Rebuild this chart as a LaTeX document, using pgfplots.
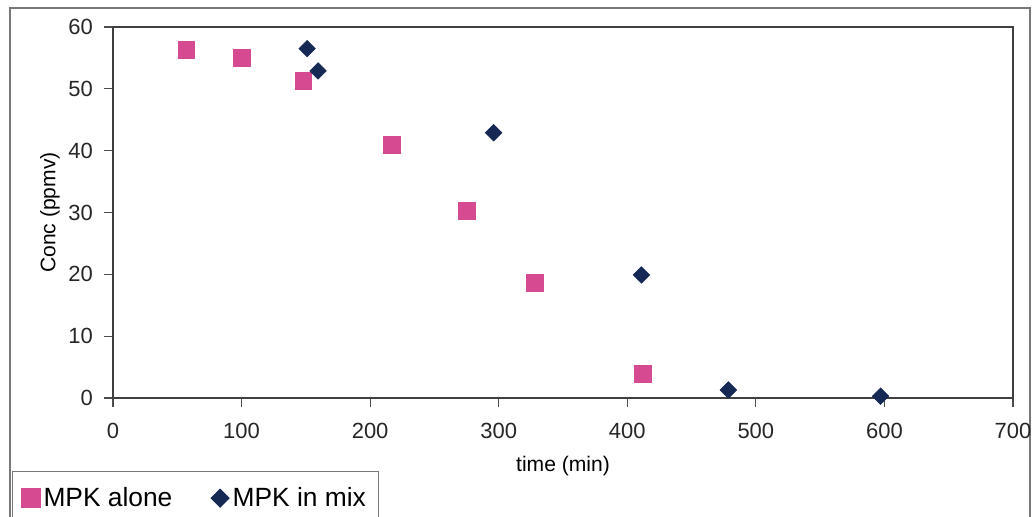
\documentclass[border=0pt]{standalone}
\usepackage{pgfplots}
\pgfplotsset{compat=1.18}
\usepackage{fontspec}
\setmainfont{Liberation Sans}
\definecolor{mpkpink}{RGB}{214,74,145}
\definecolor{mpknavy}{RGB}{22,40,84}
\definecolor{framegray}{RGB}{120,120,120}
\begin{document}
\begin{tikzpicture}
\useasboundingbox (0,0) rectangle (20.68cm,10.34cm);
\draw[framegray, line width=0.6pt] (0.2cm,0) -- (0.2cm,10.18cm) -- (20.6cm,10.18cm) -- (20.6cm,0);
\begin{axis}[
  at={(2.26cm,2.38cm)}, anchor=south west,
  scale only axis, width=18cm, height=7.42cm,
  xmin=0, xmax=700, ymin=0, ymax=60,
  xtick={0,100,...,700}, ytick={0,10,...,60},
  tick align=outside, major tick length=5pt,
  xtick pos=bottom, ytick pos=left,
  axis line style={draw=black!75, line width=1.1pt},
  tick style={black!70, line width=0.6pt},
  ticklabel style={font=\fontsize{12.5}{14}\selectfont, text=black!85},
  xticklabel style={yshift=-6pt},
  yticklabel style={xshift=-3pt},
  /pgf/number format/assume math mode=true,
  xlabel={time (min)}, ylabel={Conc (ppmv)},
  xlabel style={font=\fontsize{12}{14}\selectfont, yshift=-3pt},
  ylabel style={font=\fontsize{12}{14}\selectfont, yshift=-2pt},
  legend columns=2,
  legend style={at={(-0.112,-0.197)}, anchor=north west, draw=framegray, line width=0.5pt,
    font=\fontsize{15}{18}\selectfont, inner xsep=5pt, inner ysep=7pt,
    /tikz/every even column/.append style={column sep=20pt}},
  legend cell align=left,
  legend image post style={scale=1.1},
]
\addplot[only marks, mark=square*, mark size=4.8pt, color=mpkpink] coordinates {
(57,56.3) (100,55.0) (148,51.3) (217,40.9) (275.5,30.3) (328,18.6) (412,3.9)};
\addlegendentry{MPK alone}
\addplot[only marks, mark=square*, mark size=3.3pt, mark options={rotate=45}, color=mpknavy] coordinates {
(151,56.5) (159.5,52.9) (296,42.9) (411,19.9) (478.6,1.3) (597,0.3)};
\addlegendentry{MPK in mix}
\end{axis}
\end{tikzpicture}
\end{document}
